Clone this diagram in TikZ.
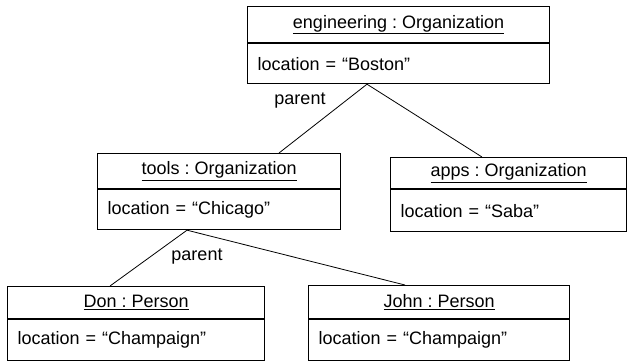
\documentclass[tikz,border=0pt]{standalone}
\usepackage{fontspec}
\setmainfont{Liberation Sans}
\frenchspacing
\begin{document}
\begin{tikzpicture}[x=1pt,y=-1pt,
  every node/.style={font=\fontsize{18}{21}\selectfont},
  ttl/.style={draw, line width=1.1pt, anchor=north west, inner sep=0pt},
  att/.style={draw, line width=1.1pt, anchor=north west, inner xsep=10pt, inner ysep=0pt, align=left},
  link/.style={line width=0.8pt},
  lbl/.style={inner sep=1pt}]
\useasboundingbox (0,0) rectangle (627,361);
% engineering
\node[ttl, minimum width=302pt, minimum height=36pt] (engT) at (247,6) {\underline{engineering : Organization}};
\node[att, text width=282pt, minimum height=40pt] (engA) at (engT.south west) {location = “Boston”};
% tools
\node[ttl, minimum width=243pt, minimum height=35pt] (toolsT) at (97,153) {\underline{tools : Organization}};
\node[att, text width=223pt, minimum height=40pt] (toolsA) at (toolsT.south west) {location = “Chicago”};
% apps
\node[ttl, minimum width=236pt, minimum height=31pt] (appsT) at (390,157) {\underline{apps : Organization}};
\node[att, text width=216pt, minimum height=42pt] (appsA) at (appsT.south west) {location = “Saba”};
% Don
\node[ttl, minimum width=257pt, minimum height=32pt] (donT) at (7,286) {\underline{Don : Person}};
\node[att, text width=237pt, minimum height=41pt] (donA) at (donT.south west) {location = “Champaign”};
% John
\node[ttl, minimum width=261pt, minimum height=33pt] (johnT) at (308,285) {\underline{John : Person}};
\node[att, text width=241pt, minimum height=41pt] (johnA) at (johnT.south west) {location = “Champaign”};
% connectors
\draw[link] ([xshift=120pt]engA.south west) -- ([xshift=182pt]toolsT.north west);
\draw[link] ([xshift=120pt]engA.south west) -- ([xshift=92pt]appsT.north west);
\draw[link] ([xshift=90pt]toolsA.south west) -- ([xshift=103pt]donT.north west);
\draw[link] ([xshift=90pt]toolsA.south west) -- ([xshift=97pt]johnT.north west);
% labels
\node[lbl] (p1) at (300,101) {parent};
\node[lbl] (p2) at (197,257) {parent};
\end{tikzpicture}
\end{document}
